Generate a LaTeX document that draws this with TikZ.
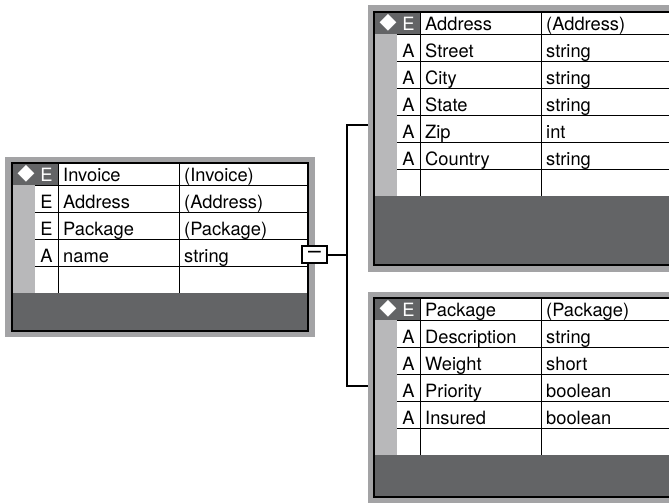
\documentclass[tikz,border=0pt]{standalone}
\usepackage{fontspec}
\setmainfont{TeX Gyre Heros}
\newfontfamily\symfont{DejaVu Sans}
\usepackage{xcolor}
\usetikzlibrary{positioning, calc}
\definecolor{FrameGray}{RGB}{163, 163, 165}
\definecolor{StripeGray}{RGB}{184, 184, 186}
\definecolor{BodyDark}{RGB}{99, 100, 102}

\begin{document}
\begin{tikzpicture}[
    x=1pt, y=-1pt,
    font=\fontsize{18.3}{20}\selectfont,
    frame/.style={rectangle, fill=FrameGray, anchor=north west, inner sep=0pt, outer sep=0pt},
    grid/.style={draw=black, line width=0.9pt},
    border/.style={draw=black, line width=2pt},
    kind/.style={anchor=base, inner sep=0pt},
    cell/.style={anchor=base west, inner sep=0pt},
    badge/.style={anchor=center, inner sep=0pt, text=white, font=\symfont\fontsize{22}{22}\selectfont},
    collapse/.style={rectangle, draw=black, line width=2pt, fill=white, minimum width=25pt, minimum height=17pt, inner sep=0pt, font=\fontsize{23}{23}\selectfont},
    conn/.style={draw=black, line width=2pt}
]
\useasboundingbox (0,0) rectangle (669,503);
\clip (0,0) rectangle (669,503);

% Invoice entity
\begin{scope}[shift={(12,163)}]
\node[frame, minimum width=310pt, minimum height=180pt] (invoice) at (-7,-6) {};
\fill[BodyDark] (0,0) rectangle (296,168);
\fill[white] (46,0) rectangle (296,22);
\fill[white] (23,22) rectangle (296,130);
\fill[StripeGray] (0,22) rectangle (23,130);
\draw[grid] (46,0) -- (46,130) (167,0) -- (167,130);
\foreach \r in {22,49,76,103} \draw[grid] (23,\r) -- (296,\r);
\draw[border] (0,0) rectangle (296,168);
\node[badge] at (14,11) {◆};
\node[kind, text=white] at (34.5,18.5) {E};
\node[cell] (invoice-0) at (51,18.5) {Invoice};
\node[cell] at (172,18.5) {(Invoice)};
\foreach \k/\n/\t [count=\i] in {E/Address/{(Address)}, E/Package/{(Package)}, A/name/string} {
    \node[kind] at (34.5,{18.5+27*\i}) {\k};
    \node[cell] (invoice-\i) at (51,{18.5+27*\i}) {\n};
    \node[cell] at (172,{18.5+27*\i}) {\t};
}
\node[collapse] (toggle) at (302.5,91.5) {\raisebox{-2.5pt}{--}};
\end{scope}

% Address entity
\begin{scope}[shift={(374,12)}]
\node[frame, minimum width=310pt, minimum height=267pt] (address) at (-6,-7) {};
\fill[BodyDark] (0,0) rectangle (296,253);
\fill[white] (46,0) rectangle (296,22);
\fill[white] (23,22) rectangle (296,184);
\fill[StripeGray] (0,22) rectangle (23,184);
\draw[grid] (46,0) -- (46,184) (167,0) -- (167,184);
\foreach \r in {22,49,76,103,130,157} \draw[grid] (23,\r) -- (296,\r);
\draw[border] (0,0) rectangle (296,253);
\node[badge] at (14,11) {◆};
\node[kind, text=white] at (34.5,18.5) {E};
\node[cell] (address-0) at (51,18.5) {Address};
\node[cell] at (172,18.5) {(Address)};
\foreach \k/\n/\t [count=\i] in {A/Street/string, A/City/string, A/State/string, A/Zip/int, A/Country/string} {
    \node[kind] at (34.5,{18.5+27*\i}) {\k};
    \node[cell] (address-\i) at (51,{18.5+27*\i}) {\n};
    \node[cell] at (172,{18.5+27*\i}) {\t};
}
\end{scope}

% Package entity
\begin{scope}[shift={(374,298)}]
\node[frame, minimum width=310pt, minimum height=212pt] (package) at (-6,-6) {};
\fill[BodyDark] (0,0) rectangle (296,199);
\fill[white] (46,0) rectangle (296,22);
\fill[white] (23,22) rectangle (296,157);
\fill[StripeGray] (0,22) rectangle (23,157);
\draw[grid] (46,0) -- (46,157) (167,0) -- (167,157);
\foreach \r in {22,49,76,103,130} \draw[grid] (23,\r) -- (296,\r);
\draw[border] (0,0) rectangle (296,199);
\node[badge] at (14,11) {◆};
\node[kind, text=white] at (34.5,18.5) {E};
\node[cell] (package-0) at (51,18.5) {Package};
\node[cell] at (172,18.5) {(Package)};
\foreach \k/\n/\t [count=\i] in {A/Description/string, A/Weight/short, A/Priority/boolean, A/Insured/boolean} {
    \node[kind] at (34.5,{18.5+27*\i}) {\k};
    \node[cell] (package-\i) at (51,{18.5+27*\i}) {\n};
    \node[cell] at (172,{18.5+27*\i}) {\t};
}
\end{scope}

% links
\coordinate[right=19pt of toggle.east] (junction);
\draw[conn] (toggle.east) -- (junction);
\draw[conn] ([yshift=13.5pt]address.west) -| (junction) |- ([yshift=12pt]package.west);

\end{tikzpicture}
\end{document}
